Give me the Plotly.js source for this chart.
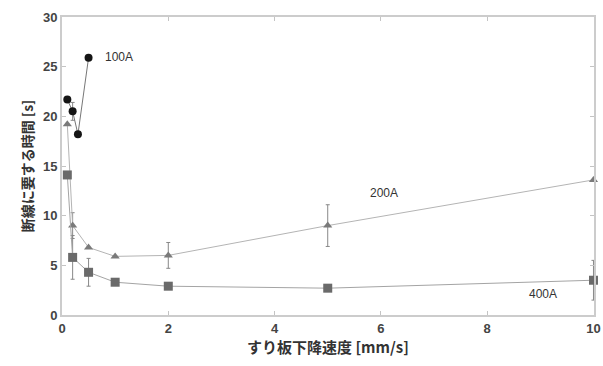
<!DOCTYPE html>
<html>
<head>
<meta charset="utf-8">
<script src="https://cdn.plot.ly/plotly-3.0.1.min.js"></script>
<style>
  html, body { margin: 0; padding: 0; background: #fff; }
  #chart { width: 603px; height: 366px; }
</style>
</head>
<body>
<div id="chart"></div>
<script>
// Descent speed of the contact strip [mm/s]
const speed100 = [0.1, 0.2, 0.3, 0.5];
const time100 = [21.7, 20.5, 18.2, 25.9];
const err100 = [0, 0.9, 0, 0];

const speed200 = [0.1, 0.2, 0.5, 1, 2, 5, 10];
const time200 = [19.2, 9.0, 6.8, 5.9, 6.0, 9.0, 13.6];
const err200 = [0, 1.3, 0, 0, 1.3, 2.1, 0];

const speed400 = [0.1, 0.2, 0.5, 1, 2, 5, 10];
const time400 = [14.1, 5.8, 4.3, 3.3, 2.9, 2.7, 3.5];
const err400 = [0, 2.2, 1.4, 0, 0, 0, 2.0];

const xTicks = [0, 2, 4, 6, 8, 10];
const yTicks = [0, 5, 10, 15, 20, 25, 30];

const seriesLabels = ['100A', '200A', '400A'];
const labelPos = [[0.77, 26.0], [5.76, 12.3], [8.75, 2.1]];

const fontFamily = '"Liberation Sans", Arial, sans-serif';
const jpFont = '"Noto Sans CJK JP", "Noto Sans", sans-serif';

function series(x, y, err, markerSymbol, markerColor, markerSize, lineColor) {
  return {
    x: x, y: y, type: 'scatter', mode: 'lines+markers',
    line: { color: lineColor, width: 1 },
    marker: { symbol: markerSymbol, color: markerColor, size: markerSize },
    error_y: { type: 'data', array: err, visible: true, color: '#888', thickness: 1, width: 2 },
    showlegend: false, cliponaxis: false
  };
}

const traces = [
  series(speed100, time100, err100, 'circle', '#151515', 8, '#777'),
  series(speed200, time200, err200, 'triangle-up', '#7a7a7a', 8, '#b4b4b4'),
  series(speed400, time400, err400, 'square', '#6a6a6a', 9, '#a4a4a4')
];

const annotations = seriesLabels.map((t, i) => ({
  x: labelPos[i][0], y: labelPos[i][1], xref: 'x', yref: 'y',
  text: t, showarrow: false, xanchor: 'left',
  font: { family: fontFamily, size: 12, color: '#333' }
}));

const axisCommon = {
  showline: true, linecolor: '#cccccc', linewidth: 2, mirror: 'ticks',
  ticks: 'inside', ticklen: 4, tickcolor: '#c4c4c4',
  showgrid: false, zeroline: false, ticklabeloverflow: 'allow',
  tickfont: { family: fontFamily, size: 13, color: '#444', weight: 'bold' }
};

const layout = {
  width: 603, height: 366,
  margin: { l: 62, r: 9, t: 17, b: 51 },
  paper_bgcolor: '#fff', plot_bgcolor: '#fff',
  xaxis: Object.assign({}, axisCommon, {
    range: [0, 10.01], tickvals: xTicks,
    title: { text: 'すり板下降速度 [mm/s]', font: { family: jpFont, size: 15, color: '#333', weight: 'bold' }, standoff: 5 }
  }),
  yaxis: Object.assign({}, axisCommon, {
    range: [0, 30], tickvals: yTicks,
    title: { text: '断線に要する時間 [s]', font: { family: jpFont, size: 14, color: '#333', weight: 'bold' }, standoff: 6 }
  }),
  annotations: annotations
};

Plotly.newPlot('chart', traces, layout, { displayModeBar: false, staticPlot: true });
</script>
</body>
</html>
